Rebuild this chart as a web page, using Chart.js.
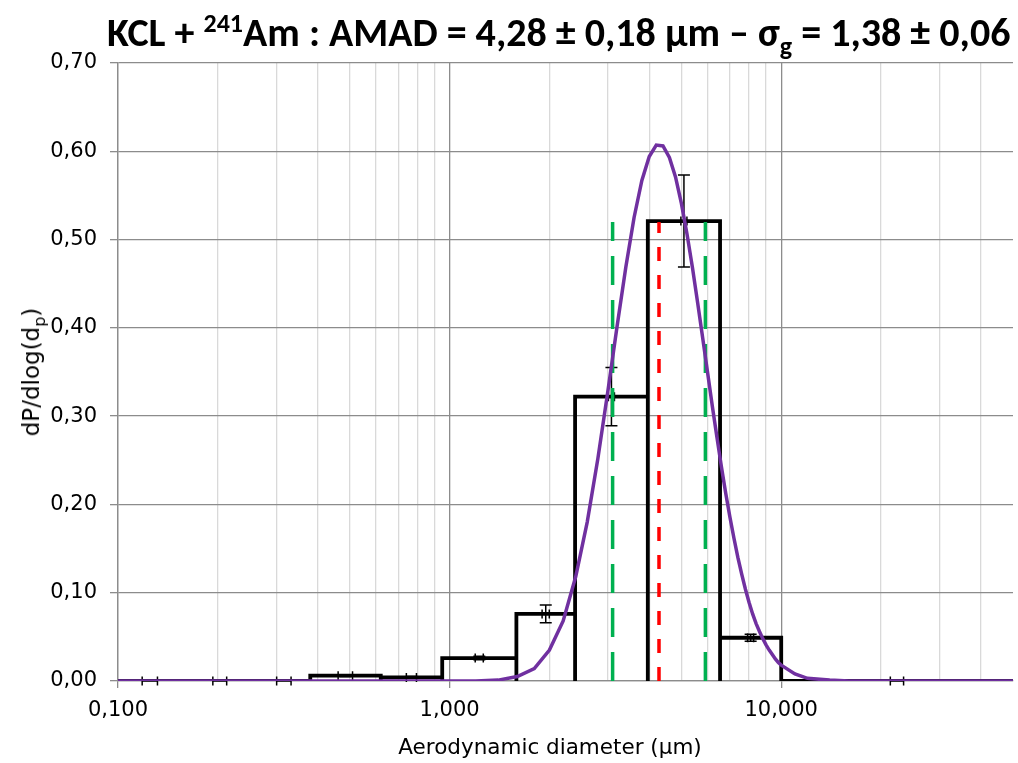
<!DOCTYPE html>
<html>
<head>
<meta charset="utf-8">
<script src="https://cdn.jsdelivr.net/npm/chart.js@4.4.1/dist/chart.umd.min.js"></script>
<style>
  html, body { margin: 0; padding: 0; background: #fff; }
  #wrap { position: relative; width: 1018px; height: 763px; overflow: hidden; }
  #chart { position: absolute; left: 0; top: 0; }
  .txt { position: absolute; white-space: nowrap; color: #000; }
  #title { left: 107px; top: 9px; font-family: 'Carlito', 'Liberation Sans Narrow', sans-serif; font-weight: bold; font-size: 40px; line-height: 48px; }
  #title sup, #title sub { font-size: 26px; line-height: 0; }
  #ytitle { left: 31px; top: 372px; transform: translate(-50%, -50%) rotate(-90deg); font-family: 'DejaVu Sans', sans-serif; font-size: 23px; }
  #ytitle sub { font-size: 16px; line-height: 0; }
  #xtitle { left: 550px; top: 734px; transform: translateX(-50%); font-family: 'DejaVu Sans', sans-serif; font-size: 21.5px; line-height: 26px; }
</style>
</head>
<body>
<div id="wrap">
  <canvas id="chart" width="1018" height="763"></canvas>
  <div class="txt" id="title">KCL + <sup>241</sup>Am : AMAD = 4,28 ± 0,18 µm – σ<sub>g</sub> = 1,38 ± 0,06</div>
  <div class="txt" id="ytitle">dP/dlog(d<sub>p</sub>)</div>
  <div class="txt" id="xtitle">Aerodynamic diameter (µm)</div>
</div>
<script>
// Impactor stages: bin edges (µm), dP/dlog(dp) per bin and its uncertainty
const binEdges  = [0.1, 0.156, 0.264, 0.38, 0.62, 0.95, 1.59, 2.39, 3.96, 6.54, 10, 50];
const binValues = [0, 0, 0, 0.006, 0.004, 0.026, 0.076, 0.322, 0.521, 0.049, 0];
const binErrors = [0, 0, 0, 0.001, 0.001, 0.002, 0.010, 0.033, 0.052, 0.004, 0];
const binXErr   = [0.053, 0.048, 0.05, 0.05, 0.035, 0.028, 0.025, 0.021, 0.021, 0.021, 0.046]; // relative

// Fitted log-normal curve
const fitX = [0.1, 0.5, 1.0, 1.2, 1.4, 1.6, 1.8, 2.0, 2.2, 2.4, 2.6, 2.8, 3.0, 3.2, 3.4, 3.6, 3.8, 4.0, 4.2, 4.4,
              4.6, 4.8, 5.0, 5.2, 5.4, 5.6, 5.8, 6.0, 6.2, 6.4, 6.6, 6.8, 7.0, 7.2, 7.4, 7.6, 7.8, 8.0, 8.2, 8.4,
              8.6, 8.8, 9.0, 9.2, 9.4, 9.6, 9.8, 10, 11, 12, 14, 16, 20, 50];
const fitY = [0, 0, 0, 0, 0.001, 0.005, 0.014, 0.035, 0.068, 0.118, 0.180, 0.252, 0.328, 0.402, 0.469, 0.525, 0.567, 0.594, 0.607, 0.606,
              0.593, 0.571, 0.541, 0.506, 0.468, 0.428, 0.388, 0.349, 0.311, 0.276, 0.243, 0.213, 0.186, 0.162, 0.140, 0.121, 0.104, 0.089, 0.076, 0.065,
              0.056, 0.048, 0.041, 0.035, 0.030, 0.025, 0.021, 0.018, 0.008, 0.003, 0.001, 0, 0, 0];

const amad = 4.28;
const sigmaG = 1.38;
const markerTop = 0.52;

const xGridValues = [0.1, 0.2, 0.3, 0.4, 0.5, 0.6, 0.7, 0.8, 0.9, 1, 2, 3, 4, 5, 6, 7, 8, 9, 10, 20, 30, 40];
const xLabelValues = [0.1, 1, 10];

const tickFont = { family: "'DejaVu Sans', sans-serif", size: 21 };

// histogram outline: each bin as an open rectangle
const histPoints = [];
binValues.forEach((v, i) => {
    histPoints.push({ x: binEdges[i], y: 0 }, { x: binEdges[i], y: v },
                    { x: binEdges[i + 1], y: v }, { x: binEdges[i + 1], y: 0 });
});

const vLine = (x) => [{ x: x, y: 0 }, { x: x, y: markerTop }];

// error bars drawn right after the histogram, so the other lines sit on top
const errorBars = {
    id: 'errorBars',
    afterDatasetDraw(chart, args) {
        if (chart.data.datasets[args.index].label !== 'hist') return;
        const ctx = chart.ctx, xs = chart.scales.x, ys = chart.scales.y;
        ctx.save();
        ctx.strokeStyle = '#000';
        ctx.lineWidth = 1.5;
        binValues.forEach((v, i) => {
            const c = Math.sqrt(binEdges[i] * binEdges[i + 1]);
            const px = xs.getPixelForValue(c);
            const py = ys.getPixelForValue(v);
            ctx.beginPath();
            if (binErrors[i] > 0) {
                const top = ys.getPixelForValue(v + binErrors[i]);
                const bot = ys.getPixelForValue(v - binErrors[i]);
                ctx.moveTo(px, top); ctx.lineTo(px, bot);
                ctx.moveTo(px - 6, top); ctx.lineTo(px + 6, top);
                ctx.moveTo(px - 6, bot); ctx.lineTo(px + 6, bot);
            }
            const xl = xs.getPixelForValue(c * (1 - binXErr[i]));
            const xr = xs.getPixelForValue(c * (1 + binXErr[i]));
            ctx.moveTo(xl, py); ctx.lineTo(xr, py);
            ctx.moveTo(xl, py - 4.5); ctx.lineTo(xl, py + 4.5);
            ctx.moveTo(xr, py - 4.5); ctx.lineTo(xr, py + 4.5);
            ctx.stroke();
        });
        ctx.restore();
    }
};

new Chart(document.getElementById('chart'), {
    type: 'line',
    data: {
        datasets: [
            { label: 'fit', order: 0, data: fitX.map((x, i) => ({ x: x, y: fitY[i] })),
              borderColor: '#7030a0', borderWidth: 3.5, pointRadius: 0, tension: 0 },
            { label: 'amad', order: 1, data: vLine(amad), borderColor: '#ff0000', borderWidth: 3.5,
              borderDash: [14, 14], pointRadius: 0 },
            { label: 'low', order: 1, data: vLine(amad / sigmaG), borderColor: '#00b050', borderWidth: 3.5,
              borderDash: [29, 15], pointRadius: 0 },
            { label: 'high', order: 1, data: vLine(amad * sigmaG), borderColor: '#00b050', borderWidth: 3.5,
              borderDash: [29, 15], pointRadius: 0 },
            { label: 'hist', order: 3, data: histPoints, borderColor: '#000', borderWidth: 3.8,
              borderJoinStyle: 'miter', pointRadius: 0, tension: 0 }
        ]
    },
    options: {
        responsive: false,
        animation: false,
        devicePixelRatio: 1,
        layout: { padding: { top: 63, right: 5, left: 0, bottom: 0 } },
        plugins: { legend: { display: false }, tooltip: { enabled: false }, title: { display: false } },
        scales: {
            x: {
                type: 'logarithmic', min: 0.1, max: 50,
                afterBuildTicks: (s) => { s.ticks = xGridValues.map(v => ({ value: v, major: xLabelValues.includes(v) })); },
                afterFit: (s) => { s.height = 82; },
                ticks: {
                    autoSkip: false, maxRotation: 0, color: '#000', font: tickFont, padding: 10,
                    callback: (v) => xLabelValues.includes(v) ? v.toFixed(3).replace('.', ',') : ''
                },
                grid: {
                    color: (c) => (c.tick && xLabelValues.includes(c.tick.value)) ? '#8c8c8c' : '#d9d9d9',
                    tickColor: (c) => (c.tick && xLabelValues.includes(c.tick.value)) ? '#8c8c8c' : 'rgba(0,0,0,0)',
                    lineWidth: 1.3, tickLength: 7
                },
                border: { color: '#8c8c8c', width: 1.3 }
            },
            y: {
                min: 0, max: 0.7,
                afterFit: (s) => { s.width = 118; },
                ticks: {
                    stepSize: 0.1, padding: 13, color: '#000', font: tickFont,
                    callback: (v) => v.toFixed(2).replace('.', ',')
                },
                grid: { color: '#8c8c8c', lineWidth: 1.3, tickLength: 8 },
                border: { color: '#8c8c8c', width: 1.3 }
            }
        }
    },
    plugins: [errorBars]
});
</script>
</body>
</html>
